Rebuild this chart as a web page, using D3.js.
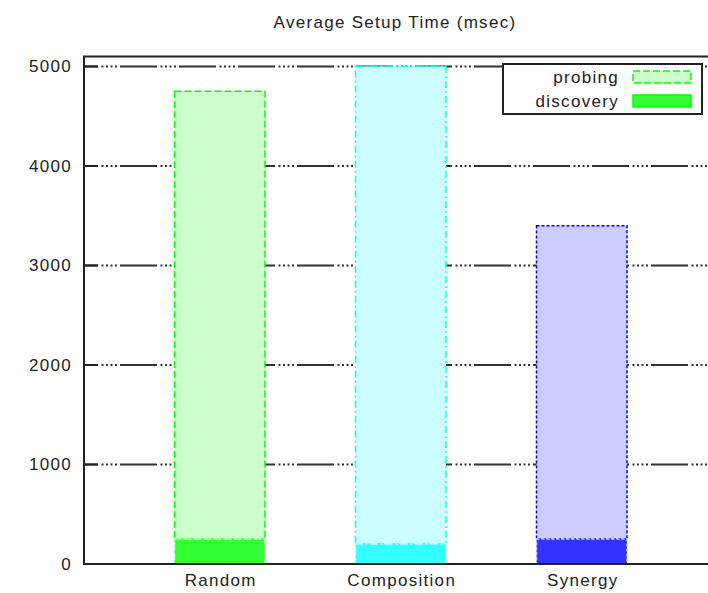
<!DOCTYPE html>
<html>
<head>
<meta charset="utf-8">
<script src="https://cdn.jsdelivr.net/npm/d3@7"></script>
<style>
body { margin: 0; background: #fff; }
text { font-family: "Liberation Sans", Arial, sans-serif; fill: #222; letter-spacing: 1.3px; }
</style>
</head>
<body>
<div id="chart"></div>
<script>
const categories = ["Random", "Composition", "Synergy"];
const discovery = [250, 200, 250];
const probing = [4500, 4800, 3150];
const yTicks = [0, 1000, 2000, 3000, 4000, 5000];
const seriesNames = ["probing", "discovery"];
const title = "Average Setup Time (msec)";

const lineColors = ["#00ff00", "#00ffff", "#0000ff"];
const lightFills = ["#ccffcc", "#ccffff", "#ccccff"];
const darkFills = ["#33ff33", "#33ffff", "#3333ff"];
const dashes = ["7,3", "7,3,2,3", "3,2"];

const width = 708;
const height = 593;

const svg = d3.select("#chart")
    .append("svg")
    .attr("width", width)
    .attr("height", height);

const x = d3.scaleLinear().domain([-0.75, 2.75]).range([84, 717.5]);
const y = d3.scaleLinear().domain([0, 5100]).range([564, 56.5]);
const halfBar = 0.25;

// title
svg.append("text")
    .attr("x", 395)
    .attr("y", 28)
    .attr("text-anchor", "middle")
    .style("font-size", "17px")
    .text(title);

// grid lines (gnuplot style: long dash + dots)
svg.selectAll(".grid")
    .data(yTicks.filter(d => d > 0))
    .enter()
    .append("line")
    .attr("x1", x(-0.75))
    .attr("x2", x(2.75))
    .attr("y1", d => y(d))
    .attr("y2", d => y(d))
    .attr("stroke", "#333")
    .attr("stroke-width", 2)
    .attr("stroke-dasharray", "2,2.5,2,2.5,2,2.5,2,3,37,3.5")
    .attr("stroke-dashoffset", 41.5);

// tick marks
svg.selectAll(".tick")
    .data(yTicks)
    .enter()
    .append("line")
    .attr("x1", 84)
    .attr("x2", 98)
    .attr("y1", d => y(d))
    .attr("y2", d => y(d))
    .attr("stroke", "#222")
    .attr("stroke-width", 2);

// stacked bars: discovery at bottom, probing on top
categories.forEach(function(c, i) {
    const x0 = x(i - halfBar);
    const w = x(i + halfBar) - x0;
    const top = discovery[i] + probing[i];

    svg.append("rect")
        .attr("x", x0)
        .attr("y", y(top))
        .attr("width", w)
        .attr("height", y(discovery[i]) - y(top))
        .attr("fill", lightFills[i])
        .attr("stroke", lineColors[i])
        .attr("stroke-width", 1.5)
        .attr("stroke-dasharray", dashes[i]);

    svg.append("rect")
        .attr("x", x0)
        .attr("y", y(discovery[i]))
        .attr("width", w)
        .attr("height", y(0) - y(discovery[i]))
        .attr("fill", darkFills[i])
        .attr("stroke", lightFills[i])
        .attr("stroke-width", 1.5)
        .attr("stroke-dasharray", dashes[i]);
});

// frame
const frame = svg.append("g")
    .attr("stroke", "#222")
    .attr("stroke-width", 2);
frame.append("line").attr("x1", 84).attr("x2", 84).attr("y1", y(5100)).attr("y2", y(0));
frame.append("line").attr("x1", 83).attr("x2", x(2.75)).attr("y1", y(0)).attr("y2", y(0));
frame.append("line").attr("x1", 83).attr("x2", x(2.75)).attr("y1", y(5100)).attr("y2", y(5100));

// y tick labels
svg.selectAll(".ylabel")
    .data(yTicks)
    .enter()
    .append("text")
    .attr("x", 72)
    .attr("y", d => y(d))
    .attr("dy", "0.35em")
    .attr("text-anchor", "end")
    .style("font-size", "17px")
    .text(d => d);

// x labels
svg.selectAll(".xlabel")
    .data(categories)
    .enter()
    .append("text")
    .attr("x", (d, i) => x(i) + 1)
    .attr("y", 586)
    .attr("text-anchor", "middle")
    .style("font-size", "17px")
    .text(d => d);

// legend
const legend = svg.append("g");
legend.append("rect")
    .attr("x", 503)
    .attr("y", 64)
    .attr("width", 199)
    .attr("height", 50)
    .attr("fill", "#fff")
    .attr("stroke", "#222")
    .attr("stroke-width", 2);

seriesNames.forEach(function(s, k) {
    const ly = 77 + k * 24;
    legend.append("text")
        .attr("x", 619)
        .attr("y", ly)
        .attr("dy", "0.35em")
        .attr("text-anchor", "end")
        .style("font-size", "17px")
        .text(s);
    legend.append("rect")
        .attr("x", 633)
        .attr("y", ly - 6)
        .attr("width", 58)
        .attr("height", 12)
        .attr("fill", k === 0 ? lightFills[0] : darkFills[0])
        .attr("stroke", lineColors[0])
        .attr("stroke-width", 1.5)
        .attr("stroke-dasharray", k === 0 ? dashes[0] : null);
});
</script>
</body>
</html>
